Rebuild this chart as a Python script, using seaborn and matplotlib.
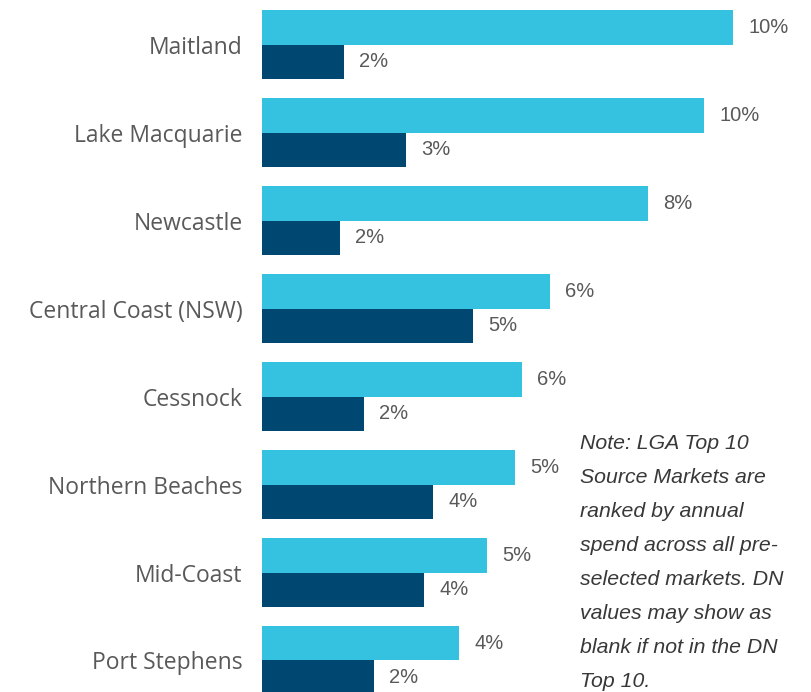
"""
LGA top source markets - horizontal grouped bar chart
"""

import pandas as pd
import matplotlib
matplotlib.use("Agg")
import matplotlib.pyplot as plt
import seaborn as sns

# Data (share of annual spend, %)
markets = ["Maitland", "Lake Macquarie", "Newcastle", "Central Coast (NSW)",
           "Cessnock", "Northern Beaches", "Mid-Coast", "Port Stephens"]
lga_share = [10.17, 9.55, 8.34, 6.22, 5.62, 5.46, 4.86, 4.25]
dn_share = [1.77, 3.11, 1.68, 4.56, 2.20, 3.69, 3.50, 2.42]
series_names = ["LGA", "DN"]

note_text = ("Note: LGA Top 10\nSource Markets are\nranked by annual\n"
             "spend across all pre-\nselected markets. DN\nvalues may show as\n"
             "blank if not in the DN\nTop 10.")

colors = ["#34C2E0", "#004872"]
text_grey = "#595959"

df = pd.DataFrame({
    "market": markets * 2,
    "share": lga_share + dn_share,
    "series": [series_names[0]] * len(markets) + [series_names[1]] * len(markets),
})

sns.set_theme(style="white")

fig = plt.figure(figsize=(8.11, 6.92), dpi=100)
ax = fig.add_axes([262 / 811, 0, 549 / 811, 1])

sns.barplot(data=df, y="market", x="share", hue="series", order=markets,
            hue_order=series_names, palette=colors, orient="h",
            width=0.784, saturation=1, legend=False, linewidth=0, ax=ax)

# value labels to the right of each bar
for container in ax.containers:
    ax.bar_label(container, labels=[f"{v:.0f}%" for v in container.datavalues],
                 padding=11, fontsize=14.5, color=text_grey,
                 family=["Liberation Sans", "DejaVu Sans"])

ax.set_xlim(0, 549 / 46.3)
ax.set_ylim(7.358, -0.506)
ax.set_xlabel("")
ax.set_ylabel("")
ax.set_xticks([])
ax.tick_params(axis="y", length=0, pad=14)
for lbl in ax.get_yticklabels():
    lbl.set_fontsize(16.5)
    lbl.set_color(text_grey)
    lbl.set_family(["Open Sans", "DejaVu Sans"])
sns.despine(ax=ax, left=True, bottom=True)

fig.text(580 / 811, 1 - 434 / 692, note_text, ha="left", va="top",
         fontsize=15.3, style="italic", color="#383838", linespacing=2.0,
         family=["Liberation Sans", "DejaVu Sans"])

fig.savefig("out.png", dpi=100)
plt.close(fig)
